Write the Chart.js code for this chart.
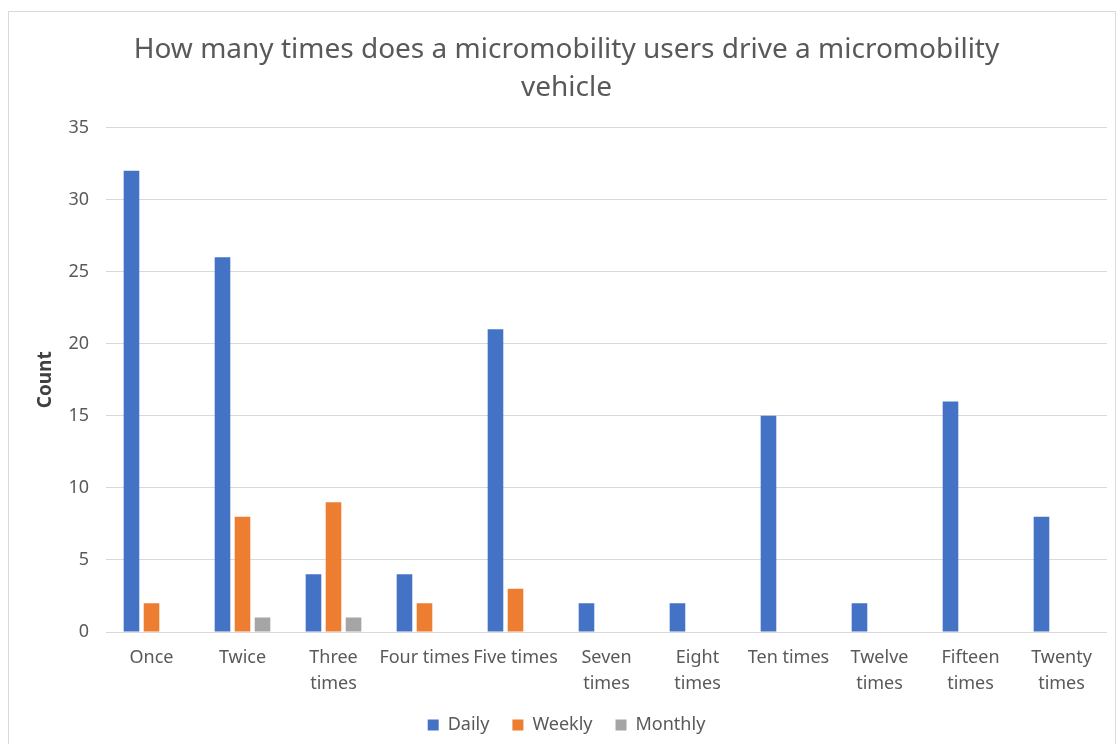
<!DOCTYPE html>
<html>
<head>
<meta charset="utf-8">
<script src="https://cdn.jsdelivr.net/npm/chart.js@4/dist/chart.umd.min.js"></script>
<style>
  html, body { margin: 0; padding: 0; background: #ffffff; }
  #wrap { position: relative; width: 1120px; height: 744px; }
  #frame { position: absolute; left: 8px; top: 11px; width: 1108px; height: 740px; border: 1px solid #d9d9d9; box-sizing: border-box; pointer-events: none; }
  canvas { position: absolute; left: 0; top: 0; }
</style>
</head>
<body>
<div id="wrap">
  <canvas id="c" width="1120" height="744"></canvas>
  <div id="frame"></div>
</div>
<script>
const categories = [
  'Once', 'Twice', ['Three', 'times'], 'Four times', 'Five times',
  ['Seven', 'times'], ['Eight', 'times'], 'Ten times', ['Twelve', 'times'],
  ['Fifteen', 'times'], ['Twenty', 'times']
];
const daily   = [32, 26, 4, 4, 21, 2, 2, 15, 2, 16, 8];
const weekly  = [2, 8, 9, 2, 3, 0, 0, 0, 0, 0, 0];
const monthly = [0, 1, 1, 0, 0, 0, 0, 0, 0, 0, 0];
const yTicks  = [0, 5, 10, 15, 20, 25, 30, 35];

const FONT = 'Noto Sans';
const TEXT = '#595959';

new Chart(document.getElementById('c'), {
  type: 'bar',
  data: {
    labels: categories,
    datasets: [
      { label: 'Daily',   data: daily,   backgroundColor: '#4472C4' },
      { label: 'Weekly',  data: weekly,  backgroundColor: '#ED7D31' },
      { label: 'Monthly', data: monthly, backgroundColor: '#A5A5A5' }
    ]
  },
  options: {
    responsive: false,
    animation: false,
    devicePixelRatio: 1,
    layout: { padding: { left: 26, right: 13, top: 0, bottom: 0 } },
    datasets: { bar: { categoryPercentage: 0.66, barPercentage: 0.78, borderWidth: 0 } },
    plugins: {
      title: {
        display: true,
        text: ['How many times does a micromobility users drive a micromobility', 'vehicle'],
        color: TEXT,
        font: { family: FONT, size: 28, weight: 'normal', lineHeight: 1.35 },
        padding: { top: 31, bottom: 21 }
      },
      legend: {
        position: 'bottom',
        labels: {
          color: TEXT,
          font: { family: FONT, size: 18 },
          boxWidth: 11, boxHeight: 11, padding: 23
        }
      },
      tooltip: { enabled: false }
    },
    scales: {
      x: {
        grid: { display: false, drawTicks: false },
        border: { display: false },
        ticks: {
          color: TEXT, font: { family: FONT, size: 18, lineHeight: 1.45 },
          autoSkip: false, maxRotation: 0, padding: 13
        },
        afterFit: s => { s.height = 61; }
      },
      y: {
        min: 0, max: 35,
        afterBuildTicks: s => { s.ticks = yTicks.map(v => ({ value: v })); },
        grid: { color: '#d9d9d9', lineWidth: 1, drawTicks: false },
        border: { display: false },
        ticks: { color: TEXT, font: { family: FONT, size: 18 }, padding: 17 },
        title: {
          display: true, text: 'Count', color: '#404040',
          font: { family: FONT, size: 19, weight: 'bold' }, padding: { top: 8, bottom: 0 }
        },
        afterFit: s => { s.width = 80; }
      }
    }
  }
});
</script>
</body>
</html>
